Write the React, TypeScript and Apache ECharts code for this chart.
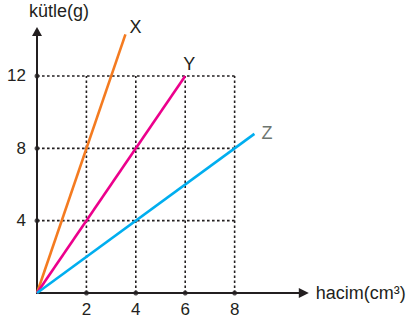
import React, { useEffect, useRef } from "react";
import * as echarts from "echarts";

const xTicks = [2, 4, 6, 8];
const yTicks = [4, 8, 12];
const seriesNames = ["X", "Y", "Z"];
const seriesEnds: [number, number][] = [
  [3.58, 14.3],
  [6, 12],
  [8.8, 8.8],
];
const seriesColors = ["#f47b20", "#ec008c", "#00aeef"];
const labelColors = ["#231f20", "#231f20", "#6d756f"];
const labelOffsets: [number, number][] = [
  [-4, -7],
  [-10, -12],
  [-1, -1],
];
const xAxisName = "hacim(cm³)";
const yAxisName = "kütle(g)";

const FONT = "'Liberation Sans', Arial, Helvetica, sans-serif";
const INK = "#231f20";

export default function App() {
  const ref = useRef<HTMLDivElement>(null);
  useEffect(() => {
    if (!ref.current) return;
    const chart = echarts.init(ref.current, undefined, { renderer: "svg" });
    const xMax = 10.8;
    const yMax = 14.46;
    const yTop = yTicks[yTicks.length - 1];
    const xRight = xTicks[xTicks.length - 1];

    const gridSeries: any[] = [];
    xTicks.forEach((x) => {
      gridSeries.push({
        type: "line",
        data: [
          [x, 0],
          [x, yTop],
        ],
        showSymbol: false,
        silent: true,
        z: 1,
        lineStyle: { color: INK, width: 1.6, type: [2.6, 2.4] },
      });
    });
    yTicks.forEach((y) => {
      gridSeries.push({
        type: "line",
        data: [
          [0, y],
          [xRight, y],
        ],
        showSymbol: false,
        silent: true,
        z: 1,
        lineStyle: { color: INK, width: 1.6, type: [2.6, 2.4] },
      });
    });

    const dataSeries = seriesNames.map((name, i) => ({
      type: "line",
      name,
      data: [[0, 0], seriesEnds[i]],
      showSymbol: false,
      z: 3,
      lineStyle: { color: seriesColors[i], width: 2.6 },
      endLabel: {
        show: true,
        formatter: name,
        color: labelColors[i],
        fontSize: 18,
        fontFamily: FONT,
        offset: labelOffsets[i],
      },
    }));

    const dots = {
      type: "scatter",
      data: [
        ...xTicks.map((x) => [x, 0]),
        ...yTicks.map((y) => [0, y]),
      ],
      symbolSize: 5,
      itemStyle: { color: INK },
      z: 4,
      silent: true,
    };

    chart.setOption({
      animation: false,
      grid: { left: 37, top: 31.5, width: 266.8, height: 261.5 },
      xAxis: {
        type: "value",
        min: 0,
        max: xMax,
        interval: 2,
        name: xAxisName,
        nameLocation: "end",
        nameGap: 12,
        nameTextStyle: { color: INK, fontSize: 18, fontFamily: FONT },
        axisLine: {
          show: true,
          symbol: ["none", "triangle"],
          symbolSize: [10, 10],
          lineStyle: { color: INK, width: 2 },
        },
        axisTick: { show: false },
        splitLine: { show: false },
        axisLabel: {
          color: INK,
          fontSize: 17,
          fontFamily: FONT,
          margin: 8,
          showMaxLabel: false,
          formatter: (v: number) => (xTicks.includes(v) ? String(v) : ""),
        },
      },
      yAxis: {
        type: "value",
        min: 0,
        max: yMax,
        interval: 4,
        name: yAxisName,
        nameLocation: "end",
        nameGap: 12,
        nameTextStyle: {
          color: INK,
          fontSize: 18,
          fontFamily: FONT,
          align: "center",
          padding: [0, 0, 0, 44],
        },
        axisLine: {
          show: true,
          symbol: ["none", "triangle"],
          symbolSize: [10, 9],
          lineStyle: { color: INK, width: 2 },
        },
        axisTick: { show: false },
        splitLine: { show: false },
        axisLabel: {
          color: INK,
          fontSize: 17,
          fontFamily: FONT,
          margin: 11,
          showMaxLabel: false,
          formatter: (v: number) => (yTicks.includes(v) ? String(v) : ""),
        },
      },
      series: [...gridSeries, ...dataSeries, dots],
    });
    return () => chart.dispose();
  }, []);
  return (
    <div
      ref={ref}
      style={{
        position: "fixed",
        left: 0,
        top: 0,
        width: 409,
        height: 324,
        background: "#fff",
      }}
    />
  );
}
